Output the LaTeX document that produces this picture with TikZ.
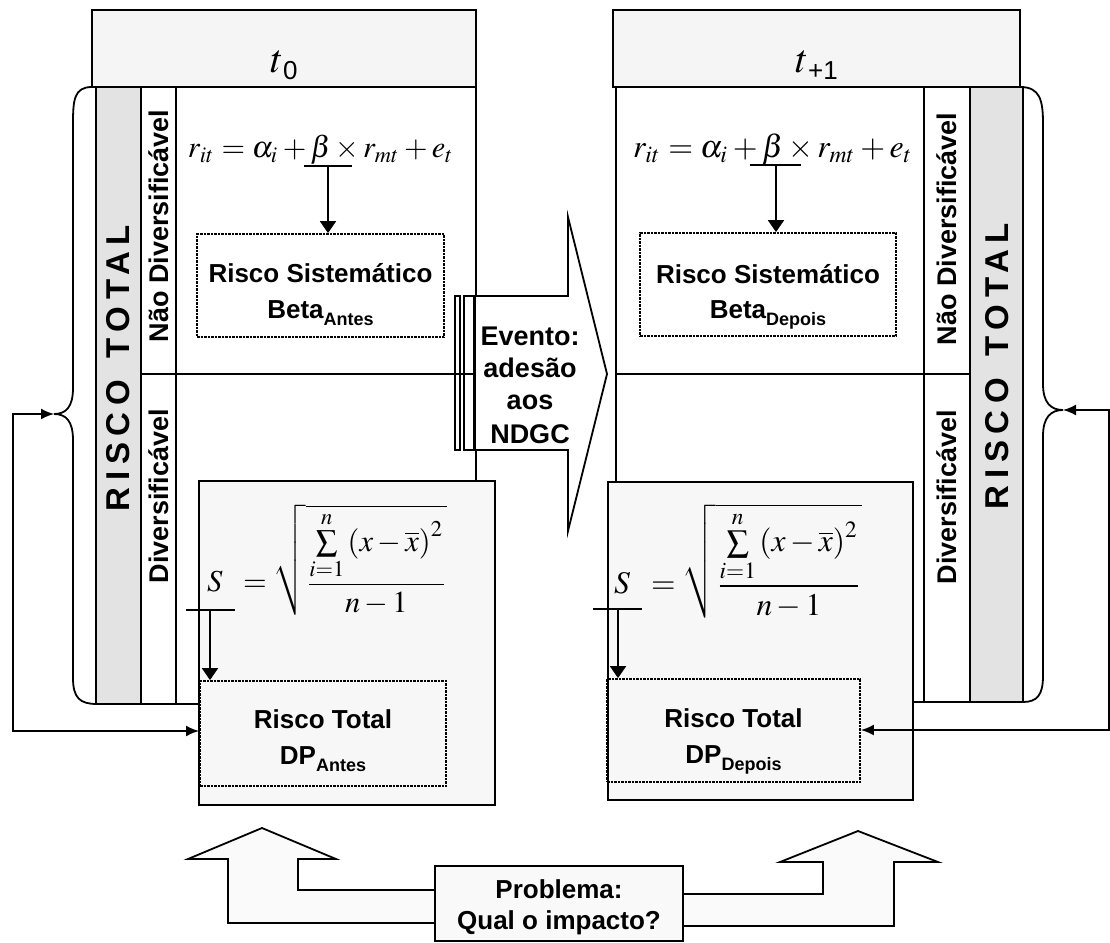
\documentclass[tikz,border=0pt]{standalone}
\usepackage{mathptmx}
\usepackage[no-math]{fontspec}
\setmainfont{Liberation Sans}
\newfontfamily\spacedfont[LetterSpace=20]{Liberation Sans}
\usepackage{graphicx}
\usetikzlibrary{arrows.meta}
\begin{document}
\begin{tikzpicture}[x=1pt,y=-1pt,
  lw/.style={line width=1.8pt},
  boxfill/.style={draw, line width=1.8pt, inner sep=0pt, outer sep=0pt},
  hdr/.style={boxfill, fill=gray!8},
  lowbox/.style={boxfill, fill=gray!6},
  stripbox/.style={boxfill, fill=gray!22},
  plainbox/.style={boxfill},
  dbox/.style={draw, line width=1.8pt, dash pattern=on 2.5pt off 1pt, inner sep=0pt},
  lbl/.style={font=\fontsize{26}{28}\selectfont\bfseries, inner sep=0pt, anchor=base},
  evlbl/.style={font=\fontsize{27}{28}\selectfont\bfseries, inner sep=0pt, anchor=base},
  vlbl/.style={font=\fontsize{27}{28}\selectfont\bfseries, inner sep=0pt, rotate=90},
  rlbl/.style={font=\spacedfont\fontsize{33}{33}\selectfont\bfseries, inner sep=0pt, rotate=90},
  dtip/.style={-{Triangle[length=12pt,width=16pt]}},
  bothtip/.style={{Latex[length=13pt,width=11pt]}-{Latex[length=13pt,width=11pt]}}
]
\useasboundingbox (0,0) rectangle (1110,942);

% ---------- left panel ----------
\node[hdr, minimum width=384pt, minimum height=77pt] (hA) at (284,48.5) {};
\node[inner sep=0pt, anchor=base] (hAt) at (284,73) {\fontsize{40}{40}\selectfont$t$\raisebox{-6pt}{\fontsize{26}{26}\selectfont 0}};
\node[stripbox, minimum width=45pt, minimum height=617pt] (rA) at (118.5,395.5) {};
\node[plainbox, minimum width=35pt, minimum height=617pt] (nA) at (158.5,395.5) {};
\draw[lw] (176,87) -- (476,87) -- (476,481);
\draw[lw] (141,374) -- (476,374);
\draw[lw] (96,704) -- (199,704);

\node[rlbl] (rAt) at (118,368) {RISCO\rule{22pt}{0pt}TOTAL};
\node[vlbl] (nAt) at (158.5,226) {Não Diversificável};
\node[vlbl] (dAt) at (158.5,496) {Diversificável};

\node[inner sep=0pt] (fA) at (321,150) {\resizebox{266pt}{!}{$r_{it}=\alpha_i+\beta\times r_{mt}+e_t$}};
\coordinate (uA1) at (304,166); \coordinate (uA2) at (352,166);
\coordinate (uAm) at (328,166);
\draw[lw] (uA1) -- (uA2);
\node[dbox, minimum width=247pt, minimum height=103pt] (sA) at (320.5,285.5) {};
\draw[lw, dtip] (uAm) -- (uAm |- sA.north);
\node[lbl] (sAt1) at (320.5,282) {Risco Sistemático};
\node[lbl] (sAt2) at (320.5,318) {Beta\raisebox{-7pt}{\fontsize{18}{18}\selectfont Antes}};

\node[lowbox, minimum width=296pt, minimum height=324pt] (lA) at (347,643) {};
\node[inner sep=0pt, anchor=west] (fSA) at (207,560) {\resizebox{240pt}{!}{$\displaystyle S\;\;=\sqrt{\frac{\sum\limits_{i=1}^{n}\left(x-\overline{x}\right)^{2}}{n-1}}$}};
\coordinate (vA1) at (186,610); \coordinate (vA2) at (235,610);
\coordinate (vAm) at (210,610);
\draw[lw] (vA1) -- (vA2);
\node[dbox, minimum width=246pt, minimum height=105pt] (tA) at (323,733.5) {};
\draw[lw, dtip] (vAm) -- (vAm |- tA.north);
\node[lbl] (tAt1) at (323,728) {Risco Total};
\node[lbl] (tAt2) at (323,764) {DP\raisebox{-7pt}{\fontsize{18}{18}\selectfont Antes}};

% left bracket
\coordinate (brA) at (54,414);
\draw[lw] (92,87) .. controls (74,87) and (73,100) .. (73,124) -- (73,388)
  .. controls (73,407) and (66,414) .. (brA)
  .. controls (66,414) and (73,421) .. (73,440) -- (73,678)
  .. controls (73,698) and (80,704) .. (97,704);
\coordinate (fbA1) at (13,414); \coordinate (fbA2) at (13,731);
\draw[lw, bothtip] (brA) -- (fbA1) -- (fbA2) -- (fbA2 -| lA.west);

% ---------- right panel ----------
\node[hdr, minimum width=407pt, minimum height=77pt] (hB) at (816.5,48.5) {};
\node[inner sep=0pt, anchor=base] (hBt) at (816.5,73) {\fontsize{40}{40}\selectfont$t$\raisebox{-6pt}{\fontsize{26}{26}\selectfont +1}};
\node[plainbox, minimum width=46pt, minimum height=615pt] (nB) at (947,394.5) {};
\node[stripbox, minimum width=53pt, minimum height=615pt] (rB) at (996.5,394.5) {};
\draw[lw] (924,87) -- (616,87) -- (616,482);
\draw[lw] (616,374) -- (970,374);
\draw[lw] (913,702) -- (1023,702);

\node[rlbl] (rBt) at (997,366) {RISCO\rule{22pt}{0pt}TOTAL};
\node[vlbl] (nBt) at (947,229) {Não Diversificável};
\node[vlbl] (dBt) at (947,497) {Diversificável};

\node[inner sep=0pt] (fB) at (773,149) {\resizebox{280pt}{!}{$r_{it}=\alpha_i+\beta\times r_{mt}+e_t$}};
\coordinate (uB1) at (750,165); \coordinate (uB2) at (801,165);
\coordinate (uBm) at (776,165);
\draw[lw] (uB1) -- (uB2);
\node[dbox, minimum width=256pt, minimum height=103pt] (sB) at (768,284.5) {};
\draw[lw, dtip] (uBm) -- (uBm |- sB.north);
\node[lbl] (sBt1) at (768,283) {Risco Sistemático};
\node[lbl] (sBt2) at (768,318) {Beta\raisebox{-7pt}{\fontsize{18}{18}\selectfont Depois}};

\node[lowbox, minimum width=305pt, minimum height=318pt] (lB) at (760.5,641) {};
\node[inner sep=0pt, anchor=west] (fSB) at (614,561) {\resizebox{248pt}{!}{$\displaystyle S\;\;=\sqrt{\frac{\sum\limits_{i=1}^{n}\left(x-\overline{x}\right)^{2}}{n-1}}$}};
\coordinate (vB1) at (593,609); \coordinate (vB2) at (642,609);
\coordinate (vBm) at (618,609);
\draw[lw] (vB1) -- (vB2);
\node[dbox, minimum width=253pt, minimum height=103pt] (tB) at (733.5,730.5) {};
\draw[lw, dtip] (vBm) -- (vBm |- tB.north);
\node[lbl] (tBt1) at (733.5,727) {Risco Total};
\node[lbl] (tBt2) at (733.5,763) {DP\raisebox{-7pt}{\fontsize{18}{18}\selectfont Depois}};

% right bracket
\coordinate (brB) at (1063,410);
\draw[lw] (1020,87) .. controls (1040,87) and (1043,100) .. (1043,124) -- (1043,384)
  .. controls (1043,403) and (1051,410) .. (brB)
  .. controls (1051,410) and (1043,417) .. (1043,436) -- (1043,676)
  .. controls (1043,695) and (1037,702) .. (1023,702);
\coordinate (fbB1) at (1109,410); \coordinate (fbB2) at (1109,730);
\draw[lw, bothtip] (brB) -- (fbB1) -- (fbB2) -- (fbB2 -| tB.east);

% ---------- event arrow ----------
\draw[lw, fill=white] (476,296) -- (568,296) -- (568,217) -- (607,374) -- (568,531) -- (568,450) -- (476,450);
\draw[line width=1.4pt] (455,296) rectangle (460,450);
\draw[line width=1.4pt] (464,296) rectangle (474,450);
\node[evlbl] (ev1) at (530,345) {Evento:};
\node[evlbl] (ev2) at (530,377) {adesão};
\node[evlbl] (ev3) at (530,409) {aos};
\node[evlbl] (ev4) at (530,443) {NDGC};

% ---------- problem and up arrows ----------
\draw[lw, fill=gray!4] (435,890) -- (298,890) -- (298,859) -- (336,859) -- (262,828) -- (188,859) -- (228,859) -- (228,923) -- (435,923);
\draw[lw, fill=gray!4] (683,894) -- (823,894) -- (823,862) -- (780,862) -- (858,831) -- (938,862) -- (894,862) -- (894,926) -- (683,926);
\node[boxfill, fill=gray!5, minimum width=248pt, minimum height=75pt] (pb) at (559,903.5) {};
\node[lbl] (pbt1) at (559,898) {Problema:};
\node[lbl] (pbt2) at (559,929) {Qual o impacto?};
\end{tikzpicture}
\end{document}
